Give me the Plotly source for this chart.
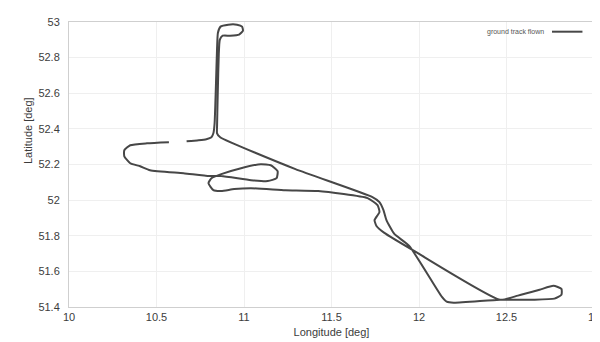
import plotly.graph_objects as go

# Ground track (longitude / latitude in degrees)
lon = [10.672, 10.740, 10.785, 10.814, 10.825, 10.832, 10.839, 10.846, 10.851, 10.866,
       10.910, 10.960, 10.989, 10.994, 10.972, 10.921, 10.878, 10.862, 10.856, 10.850,
       10.846, 10.846, 10.864, 11.294, 11.734, 11.774, 11.797, 11.814, 11.859, 11.944,
       12.130, 12.158, 12.198, 12.463, 12.650, 12.774, 12.814, 12.814, 12.768, 12.689,
       12.565, 12.463, 11.972, 11.802, 11.757, 11.746, 11.774, 11.763, 11.706, 11.424,
       11.237, 11.040, 10.944, 10.870, 10.825, 10.797, 10.814, 10.870, 10.983, 11.096,
       11.153, 11.192, 11.186, 11.136, 11.040, 10.870, 10.802, 10.655, 10.463, 10.407,
       10.350, 10.316, 10.316, 10.350, 10.446, 10.571]
lat = [52.330, 52.336, 52.342, 52.353, 52.375, 52.431, 52.627, 52.851, 52.940, 52.974,
       52.985, 52.985, 52.974, 52.951, 52.929, 52.923, 52.923, 52.901, 52.823, 52.599,
       52.414, 52.375, 52.353, 52.174, 52.017, 51.989, 51.944, 51.888, 51.810, 51.743,
       51.458, 51.430, 51.424, 51.441, 51.441, 51.447, 51.469, 51.502, 51.519, 51.497,
       51.464, 51.441, 51.715, 51.816, 51.855, 51.888, 51.933, 51.972, 52.011, 52.051,
       52.056, 52.067, 52.062, 52.051, 52.056, 52.095, 52.123, 52.146, 52.179, 52.202,
       52.196, 52.163, 52.123, 52.107, 52.112, 52.135, 52.135, 52.151, 52.168, 52.190,
       52.207, 52.246, 52.280, 52.308, 52.319, 52.325]

x_ticks = [10, 10.5, 11, 11.5, 12, 12.5, 13]
x_tick_text = ["10", "10.5", "11", "11.5", "12", "12.5", "13"]
y_ticks = [51.4, 51.6, 51.8, 52, 52.2, 52.4, 52.6, 52.8, 53]
y_tick_text = ["51.4", "51.6", "51.8", "52", "52.2", "52.4", "52.6", "52.8", "53"]

series_name = "ground track flown"

FONT = "Liberation Sans"
TXT = "#3c3c3c"
LINE = "#474747"

fig = go.Figure()
fig.add_trace(go.Scatter(
    x=lon, y=lat, mode="lines", name=series_name, showlegend=False,
    line=dict(color=LINE, width=2, shape="spline", smoothing=0.5),
))

axis_common = dict(
    showgrid=True, gridcolor="#efefef", gridwidth=1,
    showline=True, linecolor="#cfcfcf", linewidth=1, mirror=True,
    ticks="", zeroline=False,
    tickfont=dict(family=FONT, size=11, color=TXT),
)

fig.update_xaxes(range=[10, 13], tickvals=x_ticks, ticktext=x_tick_text,
                 title=dict(text="Longitude [deg]", font=dict(family=FONT, size=11, color=TXT), standoff=6),
                 **axis_common)
fig.update_yaxes(range=[51.4, 53], tickvals=y_ticks, ticktext=y_tick_text, ticklabelstandoff=6,
                 **axis_common)

# y-axis title (placed slightly above centre, as in the reference)
fig.add_annotation(text="Latitude [deg]", xref="paper", yref="paper", x=-0.092, y=0.62,
                   textangle=-90, showarrow=False,
                   font=dict(family=FONT, size=11, color=TXT))

# legend: text followed by line sample (top-right, inside the plot)
fig.add_annotation(text=series_name, xref="paper", yref="paper", x=0.909, y=0.966,
                   xanchor="right", yanchor="middle", showarrow=False,
                   font=dict(family=FONT, size=7, color="#555555"))
fig.add_shape(type="line", xref="paper", yref="paper", x0=0.92, x1=0.978, y0=0.966, y1=0.966,
              line=dict(color=LINE, width=2))

fig.update_layout(
    width=600, height=342,
    margin=dict(l=61, r=8, t=13, b=43),
    paper_bgcolor="white", plot_bgcolor="white",
    showlegend=False,
)

fig.write_html("out.html")
